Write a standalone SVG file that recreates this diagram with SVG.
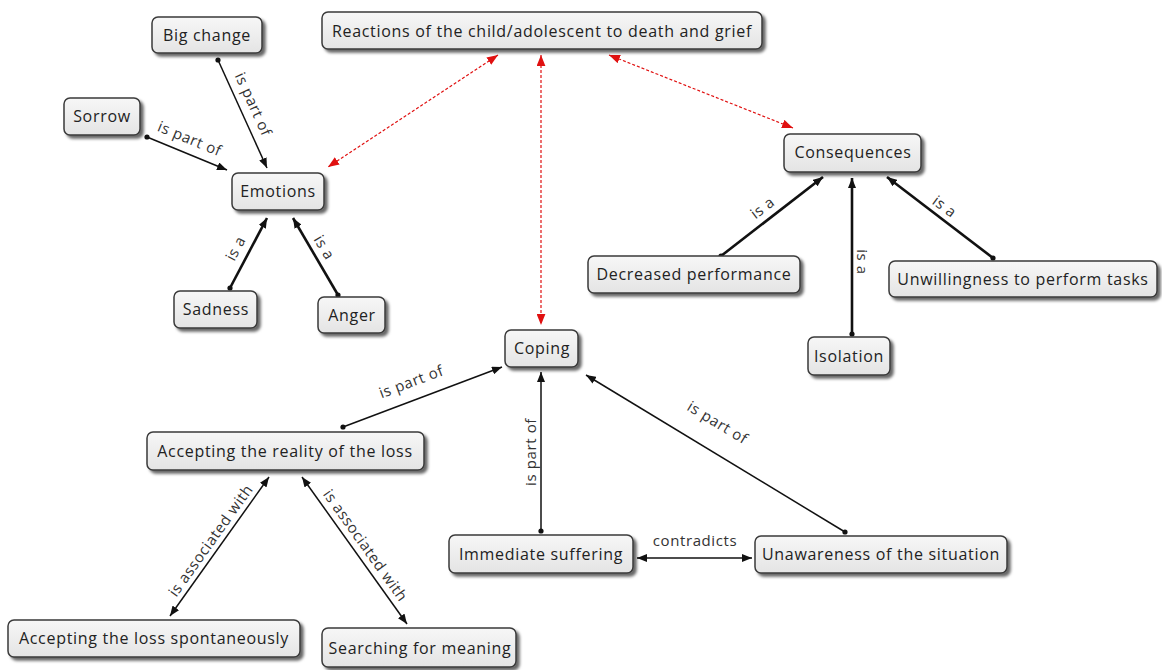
<svg xmlns="http://www.w3.org/2000/svg" width="1162" height="670" viewBox="0 0 1162 670">
<defs>
<linearGradient id="g" x1="0" y1="0" x2="0" y2="1">
<stop offset="0" stop-color="#f7f7f7"/>
<stop offset="1" stop-color="#e4e4e4"/>
</linearGradient>
<filter id="sh" x="-10%" y="-20%" width="130%" height="160%">
<feDropShadow dx="3" dy="3" stdDeviation="1.5" flood-color="#000" flood-opacity="0.6"/>
</filter>
<marker id="ar" viewBox="0 0 10 8" refX="10" refY="4" markerWidth="10" markerHeight="8" markerUnits="userSpaceOnUse" orient="auto-start-reverse">
<path d="M0,0 L10,4 L0,8 Z" fill="#111"/>
</marker>
<marker id="dot" viewBox="0 0 6 6" refX="3" refY="3" markerWidth="6" markerHeight="6" markerUnits="userSpaceOnUse">
<circle cx="3" cy="3" r="2.6" fill="#111"/>
</marker>
<marker id="rar" viewBox="0 0 10 8" refX="10" refY="4" markerWidth="11" markerHeight="9" markerUnits="userSpaceOnUse" orient="auto-start-reverse">
<path d="M0,0 L10,4 L0,8 Z" fill="#e01010"/>
</marker>
</defs>
<style>
.box{fill:url(#g);stroke:#3a3a3a;stroke-width:1.5;filter:url(#sh)}
.t{font-family:"Open Sans","DejaVu Sans",sans-serif;font-size:16px;letter-spacing:0.7px;fill:#222;text-anchor:middle;dominant-baseline:central}
.l{font-family:"Open Sans","DejaVu Sans",sans-serif;font-size:15px;letter-spacing:0.6px;fill:#333;text-anchor:middle;dominant-baseline:central}
.c{fill:none;stroke:#111;stroke-width:1.5}
.k{fill:none;stroke:#111;stroke-width:2.6}
.r{fill:none;stroke:#e01010;stroke-width:1.2;stroke-dasharray:3,2}
</style>
<rect width="1162" height="670" fill="#fff"/>

<g id="connectors">
<line class="r" x1="498" y1="55" x2="328" y2="167" marker-start="url(#rar)" marker-end="url(#rar)"/>
<line class="r" x1="541" y1="55" x2="541" y2="325" marker-start="url(#rar)" marker-end="url(#rar)"/>
<line class="r" x1="609" y1="55" x2="793" y2="128" marker-start="url(#rar)" marker-end="url(#rar)"/>

<line class="c" x1="218" y1="60" x2="267" y2="168" marker-start="url(#dot)" marker-end="url(#ar)"/>
<line class="c" x1="147" y1="137" x2="227" y2="170" marker-start="url(#dot)" marker-end="url(#ar)"/>
<line class="k" x1="230" y1="288" x2="267" y2="218" marker-start="url(#dot)" marker-end="url(#ar)"/>
<line class="k" x1="338" y1="295" x2="293" y2="218" marker-start="url(#dot)" marker-end="url(#ar)"/>

<line class="k" x1="721" y1="256" x2="823" y2="177" marker-start="url(#dot)" marker-end="url(#ar)"/>
<line class="k" x1="852" y1="334" x2="852" y2="178" marker-start="url(#dot)" marker-end="url(#ar)"/>
<line class="k" x1="993" y1="258" x2="887" y2="177" marker-start="url(#dot)" marker-end="url(#ar)"/>

<line class="c" x1="343" y1="427" x2="502" y2="367" marker-start="url(#dot)" marker-end="url(#ar)"/>
<line class="c" x1="541" y1="531" x2="541" y2="372" marker-start="url(#dot)" marker-end="url(#ar)"/>
<line class="c" x1="845" y1="532" x2="586" y2="375" marker-start="url(#dot)" marker-end="url(#ar)"/>

<line class="c" x1="269" y1="477" x2="170" y2="616" marker-start="url(#ar)" marker-end="url(#ar)"/>
<line class="c" x1="302" y1="477" x2="407" y2="624" marker-start="url(#ar)" marker-end="url(#ar)"/>
<line class="c" x1="637" y1="558" x2="752" y2="558" marker-start="url(#ar)" marker-end="url(#ar)"/>

<text class="l" transform="translate(254,104) rotate(65.6)">is part of</text>
<text class="l" transform="translate(190,138) rotate(22.5)">is part of</text>
<text class="l" transform="translate(235,248) rotate(-62)">is a</text>
<text class="l" transform="translate(325,247) rotate(59)">is a</text>
<text class="l" transform="translate(762,207) rotate(-37.8)">is a</text>
<text class="l" transform="translate(863,262) rotate(90)">is a</text>
<text class="l" transform="translate(945,206) rotate(36.7)">is a</text>
<text class="l" transform="translate(411,381) rotate(-20.7)">is part of</text>
<text class="l" transform="translate(530,452) rotate(-90)">is part of</text>
<text class="l" transform="translate(718,422) rotate(31.2)">is part of</text>
<text class="l" transform="translate(210,540) rotate(-54.5)">is associated with</text>
<text class="l" transform="translate(366,545) rotate(54.5)">is associated with</text>
<text class="l" x="695" y="540">contradicts</text>
</g>

<g id="n-reactions"><rect class="box" x="322" y="12" width="440" height="37" rx="6"/><text class="t" x="542" y="31">Reactions of the child/adolescent to death and grief</text></g>
<g id="n-bigchange"><rect class="box" x="152" y="17" width="110" height="36" rx="6"/><text class="t" x="207" y="35">Big change</text></g>
<g id="n-sorrow"><rect class="box" x="64" y="98" width="76" height="37" rx="6"/><text class="t" x="102" y="116">Sorrow</text></g>
<g id="n-emotions"><rect class="box" x="232" y="173" width="92" height="37" rx="6"/><text class="t" x="278" y="191">Emotions</text></g>
<g id="n-consequences"><rect class="box" x="784" y="134" width="137" height="38" rx="6"/><text class="t" x="853" y="152">Consequences</text></g>
<g id="n-decreased"><rect class="box" x="588" y="256" width="212" height="37" rx="6"/><text class="t" x="694" y="274">Decreased performance</text></g>
<g id="n-unwillingness"><rect class="box" x="889" y="261" width="268" height="36" rx="6"/><text class="t" x="1023" y="279">Unwillingness to perform tasks</text></g>
<g id="n-isolation"><rect class="box" x="808" y="337" width="82" height="38" rx="6"/><text class="t" x="849" y="356">Isolation</text></g>
<g id="n-sadness"><rect class="box" x="174" y="291" width="83" height="37" rx="6"/><text class="t" x="216" y="309">Sadness</text></g>
<g id="n-anger"><rect class="box" x="318" y="297" width="67" height="36" rx="6"/><text class="t" x="352" y="315">Anger</text></g>
<g id="n-coping"><rect class="box" x="505" y="330" width="73" height="37" rx="6"/><text class="t" x="542" y="348">Coping</text></g>
<g id="n-reality"><rect class="box" x="147" y="432" width="277" height="38" rx="6"/><text class="t" x="285" y="451">Accepting the reality of the loss</text></g>
<g id="n-immediate"><rect class="box" x="449" y="535" width="184" height="38" rx="6"/><text class="t" x="541" y="554">Immediate suffering</text></g>
<g id="n-unawareness"><rect class="box" x="755" y="536" width="252" height="37" rx="6"/><text class="t" x="881" y="554">Unawareness of the situation</text></g>
<g id="n-spontaneously"><rect class="box" x="8" y="620" width="292" height="37" rx="6"/><text class="t" x="154" y="638">Accepting the loss spontaneously</text></g>
<g id="n-searching"><rect class="box" x="322" y="628" width="194" height="39" rx="6"/><text class="t" x="420" y="648">Searching for meaning</text></g>
</svg>
